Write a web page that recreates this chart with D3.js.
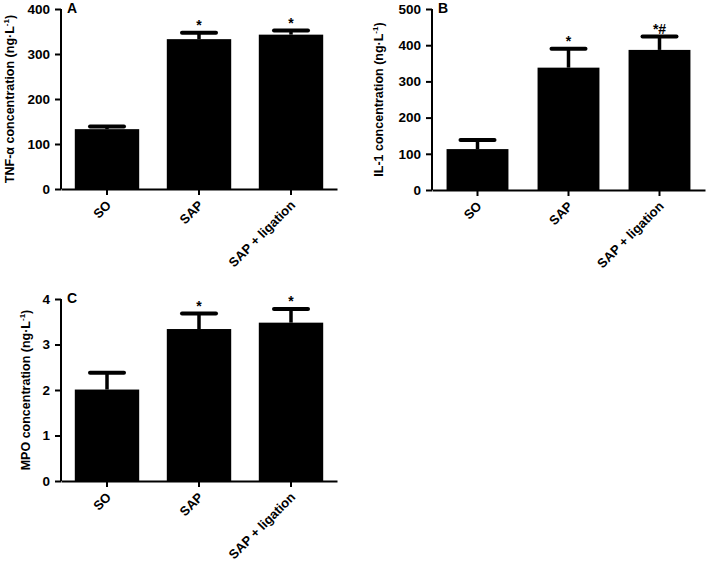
<!DOCTYPE html>
<html>
<head>
<meta charset="utf-8">
<script src="https://cdn.jsdelivr.net/npm/d3@7"></script>
<style>
  body { margin: 0; background: #fff; }
  svg text { font-family: "Liberation Sans", Arial, sans-serif; font-weight: bold; fill: #000; }
</style>
</head>
<body>
<div id="chart"></div>
<script>
// Three bar panels (A, B, C) with upper error bars

const categories = ["SO", "SAP", "SAP + ligation"];

const tnfMean = [133, 333, 343];
const tnfErr = [6, 14, 9];
const tnfMarks = ["", "*", "*"];
const tnfTicks = [0, 100, 200, 300, 400];

const il1Mean = [113, 338, 387];
const il1Err = [25, 52, 37];
const il1Marks = ["", "*", "*#"];
const il1Ticks = [0, 100, 200, 300, 400, 500];

const mpoMean = [2.01, 3.34, 3.48];
const mpoErr = [0.37, 0.34, 0.30];
const mpoMarks = ["", "*", "*"];
const mpoTicks = [0, 1, 2, 3, 4];

const svg = d3.select("#chart").append("svg")
  .attr("width", 709)
  .attr("height", 561);

svg.append("rect").attr("width", 709).attr("height", 561).attr("fill", "#fff");

function drawPanel(opt) {
  const g = svg.append("g");

  const x = d3.scaleBand()
    .domain(categories)
    .range([opt.left, opt.right])
    .paddingInner(opt.pad)
    .paddingOuter(opt.pad / 2);

  const y = d3.scaleLinear()
    .domain([0, opt.max])
    .range([opt.bottom, opt.top]);

  // bars
  g.selectAll("rect.bar")
    .data(opt.means)
    .join("rect")
    .attr("class", "bar")
    .attr("x", (d, i) => x(categories[i]))
    .attr("width", x.bandwidth())
    .attr("y", d => y(d))
    .attr("height", d => y(0) - y(d))
    .attr("fill", "#000");

  // error bars (upper only)
  const cx = i => x(categories[i]) + x.bandwidth() / 2;
  g.selectAll("line.err")
    .data(opt.means)
    .join("line")
    .attr("class", "err")
    .attr("x1", (d, i) => cx(i))
    .attr("x2", (d, i) => cx(i))
    .attr("y1", d => y(d))
    .attr("y2", (d, i) => y(d + opt.errs[i]))
    .attr("stroke", "#000")
    .attr("stroke-width", 3.5);

  g.selectAll("line.cap")
    .data(opt.means)
    .join("line")
    .attr("class", "cap")
    .attr("x1", (d, i) => cx(i) - 17)
    .attr("x2", (d, i) => cx(i) + 17)
    .attr("y1", (d, i) => y(d + opt.errs[i]))
    .attr("y2", (d, i) => y(d + opt.errs[i]))
    .attr("stroke", "#000")
    .attr("stroke-width", 4)
    .attr("stroke-linecap", "round");

  // significance marks
  g.selectAll("text.mark")
    .data(opt.marks)
    .join("text")
    .attr("class", "mark")
    .attr("x", (d, i) => cx(i))
    .attr("y", (d, i) => y(opt.means[i] + opt.errs[i]) - 3)
    .attr("text-anchor", "middle")
    .style("font-size", "14px")
    .text(d => d);

  // y axis
  const yAxis = g.append("g")
    .attr("transform", `translate(${opt.left},0)`)
    .call(d3.axisLeft(y).tickValues(opt.ticks).tickSize(6).tickPadding(5).tickFormat(d3.format("d")));
  yAxis.select(".domain").attr("stroke-width", 2).attr("d", `M0,${opt.bottom}V${opt.top}`);
  yAxis.selectAll(".tick line").attr("stroke-width", 2);
  yAxis.selectAll(".tick text").style("font-size", "13.5px").attr("font-family", null);

  // x axis
  const xAxis = g.append("g")
    .attr("transform", `translate(0,${opt.bottom})`)
    .call(d3.axisBottom(x).tickSize(6).tickSizeOuter(0));
  xAxis.select(".domain").attr("stroke-width", 2);
  xAxis.selectAll(".tick line").attr("stroke-width", 2);
  xAxis.selectAll(".tick text")
    .style("font-size", "13px")
    .attr("font-family", null)
    .attr("text-anchor", "end")
    .attr("dy", null)
    .attr("y", 0)
    .attr("transform", "translate(5,17) rotate(-45)");

  // panel letter
  g.append("text")
    .attr("x", opt.left + 6)
    .attr("y", opt.top + 4)
    .style("font-size", "14px")
    .text(opt.letter);

  // y axis title
  const title = g.append("text")
    .attr("transform", `translate(${opt.titleX},${(opt.top + opt.bottom) / 2}) rotate(-90)`)
    .attr("text-anchor", "middle")
    .style("font-size", "12.5px");
  title.append("tspan").text(opt.title + " (ng·L");
  title.append("tspan").attr("dy", -5).style("font-size", "8px").text("-1");
  title.append("tspan").attr("dy", 5).text(")");
}

drawPanel({
  letter: "A", title: "TNF-α  concentration",
  means: tnfMean, errs: tnfErr, marks: tnfMarks, ticks: tnfTicks, max: 400,
  left: 61, right: 337, top: 9, bottom: 189, pad: 0.3, titleX: 14
});

drawPanel({
  letter: "B", title: "IL-1 concentration",
  means: il1Mean, errs: il1Err, marks: il1Marks, ticks: il1Ticks, max: 500,
  left: 432, right: 705, top: 9, bottom: 190, pad: 0.32, titleX: 383
});

drawPanel({
  letter: "C", title: "MPO concentration",
  means: mpoMean, errs: mpoErr, marks: mpoMarks, ticks: mpoTicks, max: 4,
  left: 61, right: 337, top: 299, bottom: 481, pad: 0.3, titleX: 30
});
</script>
</body>
</html>
